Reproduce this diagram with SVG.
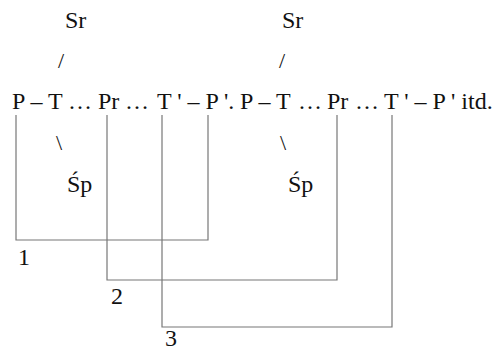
<svg xmlns="http://www.w3.org/2000/svg" width="492" height="352" viewBox="0 0 492 352">
<style>
text{font-family:"Liberation Serif","Times New Roman",serif;font-size:24px;fill:#111}
.s{font-size:22px}
.l{fill:none;stroke:#777;stroke-width:1.2}
</style>
<rect width="492" height="352" fill="#fff"/>
<g id="row">
<text x="12" y="109">P – T</text>
<text x="68" y="109">…</text>
<text x="98" y="109">Pr</text>
<text x="125" y="109">…</text>
<text x="157" y="109">T ' – P '.</text>
<text x="240" y="109">P – T</text>
<text x="298" y="109">…</text>
<text x="327" y="109">Pr</text>
<text x="355" y="109">…</text>
<text x="384" y="109">T ' – P ' itd.</text>
</g>
<g id="branch1">
<text x="65" y="28">Sr</text>
<text x="58" y="68" class="s">/</text>
<text x="56" y="150" class="s">\</text>
<text x="67" y="192">Śp</text>
</g>
<g id="branch2">
<text x="282" y="28">Sr</text>
<text x="279" y="68" class="s">/</text>
<text x="280" y="150" class="s">\</text>
<text x="288" y="192">Śp</text>
</g>
<g id="connectors">
<polyline class="l" points="16,115 16,240 208,240 208,115"/>
<polyline class="l" points="107,115 107,280 337,280 337,115"/>
<polyline class="l" points="162,115 162,327 392,327 392,115"/>
</g>
<g id="labels">
<text x="18" y="265">1</text>
<text x="111" y="304">2</text>
<text x="165" y="346">3</text>
</g>
</svg>
